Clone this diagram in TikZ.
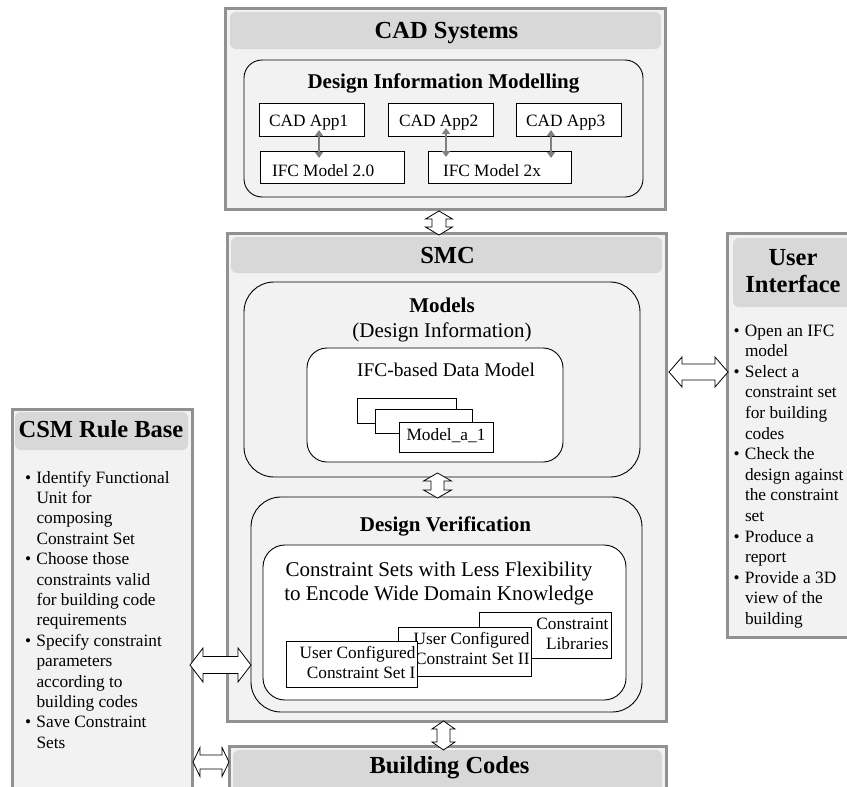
\documentclass[tikz,border=0pt]{standalone}
\usepackage{fontspec}
\setmainfont{Liberation Serif}
\usetikzlibrary{arrows.meta}

\definecolor{panelfill}{RGB}{242,242,242}
\definecolor{panelrim}{RGB}{145,145,145}
\definecolor{bandfill}{RGB}{216,216,216}
\definecolor{linkgray}{RGB}{128,128,128}

\newcommand\fsHead{\fontsize{24.5}{27.7}\selectfont\bfseries}
\newcommand\fsSub{\fontsize{21}{24}\selectfont\bfseries}
\newcommand\fsLarge{\fontsize{21}{24}\selectfont}
\newcommand\fsMid{\fontsize{19.4}{22}\selectfont}
\newcommand\fsUi{\fontsize{17.3}{20.6}\selectfont}
\newcommand\fsCsm{\fontsize{17.3}{20.4}\selectfont}
\newcommand\fsBox{\fontsize{17.3}{20}\selectfont}
\newcommand\bul{\makebox[11.5pt][l]{\textbullet}}
\newcommand\cont{\hspace*{11.5pt}}

% hollow block arrows: centre, start, end, shaft half width, head half width, head length
\newcommand\vblock[6]{%
  \draw[blockarrow] (#1,#2) -- ({#1+#5},{#2+#6}) -- ({#1+#4},{#2+#6})
    -- ({#1+#4},{#3-#6}) -- ({#1+#5},{#3-#6}) -- (#1,#3)
    -- ({#1-#5},{#3-#6}) -- ({#1-#4},{#3-#6}) -- ({#1-#4},{#2+#6})
    -- ({#1-#5},{#2+#6}) -- cycle;}
\newcommand\hblock[6]{%
  \draw[blockarrow] (#2,#1) -- ({#2+#6},{#1-#5}) -- ({#2+#6},{#1-#4})
    -- ({#3-#6},{#1-#4}) -- ({#3-#6},{#1-#5}) -- (#3,#1)
    -- ({#3-#6},{#1+#5}) -- ({#3-#6},{#1+#4}) -- ({#2+#6},{#1+#4})
    -- ({#2+#6},{#1+#5}) -- cycle;}

\begin{document}
\begin{tikzpicture}[x=1pt,y=-1pt,
  every node/.style={inner sep=0pt,outer sep=0pt},
  panel/.style={draw=panelrim,line width=3pt,fill=panelfill,anchor=north west},
  band/.style={fill=bandfill,rounded corners=6pt,anchor=north west},
  group/.style={draw=black,line width=0.9pt,fill=panelfill,anchor=north west},
  inner/.style={draw=black,line width=0.9pt,fill=white,anchor=north west},
  unit/.style={draw=black,line width=0.8pt,fill=white,anchor=north west},
  blockarrow/.style={draw=black,line width=0.8pt,fill=white,line join=miter},
  link/.style={draw=linkgray,line width=2pt,
    {Triangle[length=6pt,width=8pt]}-{Triangle[length=6pt,width=8pt]}},
  head/.style={font=\fsHead,anchor=base},
  lab/.style={font=\fsBox,anchor=base west}]

\useasboundingbox (0,0) rectangle (847,787);
\fill[white] (0,0) rectangle (847,787);

% ---------------- CAD Systems ----------------
\node[panel,minimum width=440pt,minimum height=201pt] (cad) at (225,8) {};
\node[band,minimum width=431pt,minimum height=37pt] (cadband) at (230,12) {};
\node[head] (cadtitle) at (446.5,38.5) {CAD Systems};
\node[group,rounded corners=18pt,minimum width=399pt,minimum height=137pt] (dim) at (244,60) {};
\node[font=\fsSub,anchor=base] (dimtitle) at (443.5,88.5) {Design Information Modelling};

\node[unit,minimum width=105pt,minimum height=33pt] (app1) at (259,103) {};
\node[unit,minimum width=105pt,minimum height=33pt] (app2) at (388,103) {};
\node[unit,minimum width=105pt,minimum height=33pt] (app3) at (516,103) {};
\node[unit,minimum width=144pt,minimum height=32pt] (ifc20) at (260,151) {};
\node[unit,minimum width=143pt,minimum height=32pt] (ifc2x) at (428,151) {};
\node[lab] (app1t) at (269,126) {CAD App1};
\node[lab] (app2t) at (399,126) {CAD App2};
\node[lab] (app3t) at (526,126) {CAD App3};
\node[lab] (ifc20t) at (272,176.5) {IFC Model 2.0};
\node[lab] (ifc2xt) at (443,176.5) {IFC Model 2x};

\draw[link] (319,130) -- (319,158);
\draw[link] (446,128) -- (446,157);
\draw[link] (551,130) -- (551,158);

% ---------------- SMC ----------------
\node[panel,minimum width=439pt,minimum height=488pt] (smc) at (227,233) {};
\node[band,minimum width=431pt,minimum height=36pt] (smcband) at (231,237) {};
\node[head] (smctitle) at (447.5,263) {SMC};

\node[group,rounded corners=30pt,minimum width=396pt,minimum height=195pt] (models) at (244,282) {};
\node[font=\fsSub,anchor=base] (modelstitle) at (442,312.5) {Models};
\node[font=\fsLarge,anchor=base] (modelssub) at (442,337.5) {(Design Information)};
\node[inner,rounded corners=20pt,minimum width=256pt,minimum height=114pt] (ifcdm) at (307,348) {};
\node[font=\fsMid,anchor=base] (ifcdmt) at (446,376.5) {IFC-based Data Model};
\node[unit,minimum width=99pt,minimum height=25pt] (ma) at (357,398) {};
\node[unit,minimum width=97pt,minimum height=24pt] (mb) at (375,409) {};
\node[unit,minimum width=94pt,minimum height=30pt] (mc) at (399,422) {};
\node[font=\fsBox,anchor=base] (mct) at (446,440) {Model\_a\_1};

\node[group,rounded corners=30pt,minimum width=391pt,minimum height=215pt] (dv) at (251,497) {};
\node[font=\fsSub,anchor=base] (dvtitle) at (445.5,531.5) {Design Verification};
\node[inner,rounded corners=22pt,minimum width=363pt,minimum height=155pt] (cs) at (263,545) {};
\node[font=\fsLarge,anchor=base,align=center] (cstext) at (439,600)
  {Constraint Sets with Less Flexibility\\to Encode Wide Domain Knowledge};

\node[unit,minimum width=132pt,minimum height=46pt] (lib) at (479,612) {};
\node[font=\fsBox,anchor=base east,align=right] (libt) at (608.5,649) {Constraint\\Libraries};
\node[unit,minimum width=133pt,minimum height=49pt] (set2) at (398,627) {};
\node[font=\fsBox,anchor=base east,align=right] (set2t) at (529.5,664) {User Configured\\Constraint Set II};
\node[unit,minimum width=131pt,minimum height=46pt] (set1) at (286,641) {};
\node[font=\fsBox,anchor=base east,align=right] (set1t) at (415.5,678) {User Configured\\Constraint Set I};

% ---------------- User Interface ----------------
\node[panel,minimum width=140pt,minimum height=404pt] (ui) at (727,233) {};
\node[band,minimum width=130pt,minimum height=69pt] (uiband) at (733,238) {};
\node[head,align=center] (uititle) at (793,292.7) {User\\Interface};
\node[font=\fsUi,anchor=base west,align=left] (uilist) at (733.5,624.4)
  {\bul Open an IFC\\\cont model\\
   \bul Select a\\\cont constraint set\\\cont for building\\\cont codes\\
   \bul Check the\\\cont design against\\\cont the constraint\\\cont set\\
   \bul Produce a\\\cont report\\
   \bul Provide a 3D\\\cont view of the\\\cont building};

% ---------------- CSM Rule Base ----------------
\node[panel,minimum width=180pt,minimum height=400pt] (csm) at (12,409) {};
\node[band,minimum width=173pt,minimum height=38pt] (csmband) at (15,412) {};
\node[head] (csmtitle) at (101,437) {CSM Rule Base};
\node[font=\fsCsm,anchor=base west,align=left] (csmlist) at (25,748.2)
  {\bul Identify Functional\\\cont Unit for\\\cont composing\\\cont Constraint Set\\
   \bul Choose those\\\cont constraints valid\\\cont for building code\\\cont requirements\\
   \bul Specify constraint\\\cont parameters\\\cont according to\\\cont building codes\\
   \bul Save Constraint\\\cont Sets};

% ---------------- Building Codes ----------------
\node[panel,minimum width=437pt,minimum height=60pt] (bc) at (229,746) {};
\node[band,minimum width=429pt,minimum height=60pt] (bcband) at (233,750) {};
\node[head] (bctitle) at (449.5,773) {Building Codes};

% ---------------- block arrows between the parts ----------------
\vblock{439}{211}{235}{7}{13.5}{8}
\vblock{437.5}{473}{498}{6.5}{14}{8}
\vblock{443.5}{721}{750}{6.5}{11.5}{8}
\hblock{665}{190}{251}{8.5}{17}{13}
\hblock{372}{669}{728}{8}{15}{13}
\hblock{762}{193}{229}{7}{14.5}{7}

\end{tikzpicture}
\end{document}
